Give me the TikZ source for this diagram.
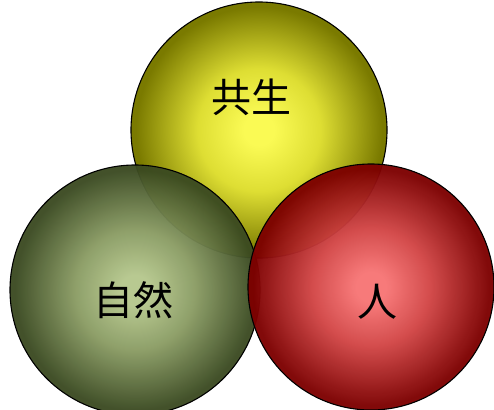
\documentclass[tikz,border=0pt]{standalone}
\usepackage{fontspec}
\newfontfamily\cjk{Noto Sans CJK JP}
\usepackage{tikz}
\usetikzlibrary{calc}
\usepackage{xcolor}
\definecolor{ballline}{HTML}{000000}
\pgfdeclareradialshading{yellowball}{\pgfpoint{0bp}{0bp}}{%
  rgb(0bp)=(0.98,0.98,0.33); rgb(3bp)=(0.98,0.98,0.33); rgb(12bp)=(0.87,0.87,0.20); rgb(24bp)=(0.48,0.48,0.0); rgb(50bp)=(0.46,0.46,0.0)}
\pgfdeclareradialshading{greenball}{\pgfpoint{0bp}{0bp}}{%
  rgb(0bp)=(0.71,0.78,0.55); rgb(3bp)=(0.71,0.78,0.55); rgb(12bp)=(0.54,0.61,0.39); rgb(24bp)=(0.23,0.29,0.13); rgb(50bp)=(0.22,0.28,0.12)}
\pgfdeclareradialshading{redball}{\pgfpoint{0bp}{0bp}}{%
  rgb(0bp)=(0.97,0.46,0.46); rgb(3bp)=(0.97,0.46,0.46); rgb(12bp)=(0.82,0.27,0.27); rgb(24bp)=(0.49,0.0,0.0); rgb(50bp)=(0.47,0.0,0.0)}
\tikzset{
  ball/.style={circle, draw=ballline, line width=1.1pt, inner sep=0pt},
  ballY/.style={ball, shading=yellowball, minimum size=256pt},
  ballG/.style={ball, shading=greenball, fill opacity=0.96, minimum size=250pt},
  ballR/.style={ball, shading=redball, fill opacity=0.96, minimum size=246pt},
  balltext/.style={font=\cjk\fontsize{40}{46}\selectfont, text=black, inner sep=0pt},
}

\begin{document}
\begin{tikzpicture}[x=1pt, y=-1pt]
\useasboundingbox (0,0) rectangle (494,409);
\node[ballY] (gongsheng) at (259,130) {};
\node[ballG] (ziran) at (135,290) {};
\node[ballR] (ren) at (371,287) {};
\node[balltext] (gongsheng text) at (251,97) {共生};
\node[balltext] (ziran text) at (133,300) {自然};
\node[balltext] (ren text) at (377,302) {人};
\end{tikzpicture}
\end{document}
